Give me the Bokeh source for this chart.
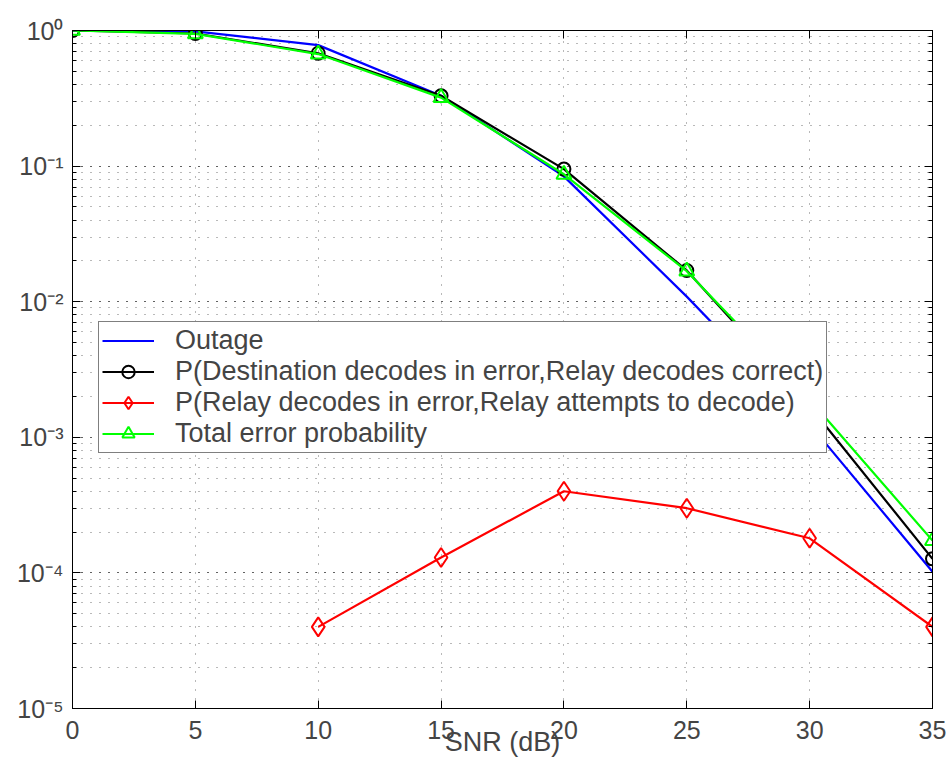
from bokeh.plotting import figure
from bokeh.models import (LinearAxis, LogAxis, LogTicker, SingleIntervalTicker,
                          CustomJSTickFormatter, Legend, LegendItem, Range1d)
from bokeh.embed import file_html
from bokeh.resources import INLINE

# ---- data ----
snr = [0, 5, 10, 15, 20, 25, 30, 35]
outage = [1.0, 0.985, 0.78, 0.33, 0.084, 0.0109, 0.00125, 0.000102]
dest_err = [1.0, 0.95, 0.68, 0.33, 0.095, 0.0170, 0.00170, 0.000127]
total_err = [1.0, 0.945, 0.67, 0.32, 0.087, 0.0168, 0.00190, 0.000173]
relay_snr = [10, 15, 20, 25, 30, 35]
relay_err = [4.0e-5, 1.3e-4, 4.0e-4, 3.0e-4, 1.8e-4, 4.0e-5]

labels = ["Outage",
          "P(Destination decodes in error,Relay decodes correct)",
          "P(Relay decodes in error,Relay attempts to decode)",
          "Total error probability"]
x_label = "SNR (dB)"

FONT = "Liberation Sans"

p = figure(width=946, height=760, y_axis_type="log",
           x_range=Range1d(0, 35), y_range=Range1d(1e-5, 1.0),
           output_backend="svg", toolbar_location=None,
           min_border_left=72, min_border_right=14,
           min_border_top=30, min_border_bottom=52)
p.outline_line_color = "black"
p.outline_line_width = 1
p.background_fill_color = "white"
p.border_fill_color = "white"

sup_code = """
const sup = {'-':'\u207b','0':'\u2070','1':'\u00b9','2':'\u00b2','3':'\u00b3','4':'\u2074','5':'\u2075','6':'\u2076','7':'\u2077','8':'\u2078','9':'\u2079'};
const e = Math.round(Math.log10(tick));
return '10' + String(e).split('').map(c => sup[c]).join('');
"""

yticker = LogTicker(desired_num_ticks=6, num_minor_ticks=10)
xticker = SingleIntervalTicker(interval=5, num_minor_ticks=0)

# bottom x axis
xa = p.xaxis[0]
xa.ticker = xticker
xa.axis_label = x_label
xa.axis_label_text_font = FONT
xa.axis_label_text_font_style = "normal"
xa.axis_label_text_font_size = "27px"
xa.axis_label_standoff = -15
xa.major_label_text_font = FONT
xa.major_label_text_font_size = "25px"
xa.major_label_standoff = 12
xa.major_tick_in = 8
xa.major_tick_out = 0
xa.minor_tick_line_color = None

# left y axis
ya = p.yaxis[0]
ya.ticker = yticker
ya.formatter = CustomJSTickFormatter(code=sup_code)
ya.major_label_text_font = FONT
ya.major_label_text_font_size = "25px"
ya.major_label_standoff = 9
ya.major_tick_in = 8
ya.major_tick_out = 0
ya.minor_tick_in = 4
ya.minor_tick_out = 0

# top & right axes (ticks only, labels not drawn)
top = LinearAxis(ticker=xticker, major_tick_in=8, major_tick_out=0,
                 minor_tick_line_color=None, major_label_text_color=None,
                 major_label_text_font_size="6px", major_label_standoff=0)
right = LogAxis(ticker=yticker, major_tick_in=8, major_tick_out=0,
                minor_tick_in=4, minor_tick_out=0, major_label_text_color=None,
                major_label_text_font_size="6px", major_label_standoff=0)
p.add_layout(top, "above")
p.add_layout(right, "right")

# grid
for g in (p.xgrid[0], p.ygrid[0]):
    g.grid_line_color = "black"
    g.grid_line_alpha = 0.55
    g.grid_line_dash = "1 8"
    g.grid_line_width = 1
p.xgrid[0].ticker = xticker
p.ygrid[0].ticker = yticker
p.ygrid[0].minor_grid_line_color = "black"
p.ygrid[0].minor_grid_line_alpha = 0.55
p.ygrid[0].minor_grid_line_dash = "1 8"

LW = 2.2
r_out = p.line(snr, outage, line_color="#0000ff", line_width=LW)
r_dl = p.line(snr, dest_err, line_color="black", line_width=LW)
r_dm = p.scatter(snr, dest_err, marker="circle", size=13, fill_color=None,
                 line_color="black", line_width=2)
r_rl = p.line(relay_snr, relay_err, line_color="#ff0000", line_width=LW)
r_rm = p.scatter(relay_snr, relay_err, marker="diamond", size=19, fill_color=None,
                 line_color="#ff0000", line_width=2)
r_tl = p.line(snr, total_err, line_color="#00ff00", line_width=LW)
r_tm = p.scatter(snr, total_err, marker="triangle", size=15, fill_color=None,
                 line_color="#00ff00", line_width=2)

legend = Legend(items=[
    LegendItem(label=labels[0], renderers=[r_out]),
    LegendItem(label=labels[1], renderers=[r_dl, r_dm]),
    LegendItem(label=labels[2], renderers=[r_rl, r_rm]),
    LegendItem(label=labels[3], renderers=[r_tl, r_tm]),
], location=(26, 255))
legend.label_text_font = FONT
legend.label_text_font_size = "27px"
legend.label_standoff = 21
legend.glyph_width = 52
legend.glyph_height = 31
legend.label_height = 31
legend.spacing = 0
legend.padding = 3
legend.margin = 0
legend.border_line_color = "black"
legend.border_line_width = 1
legend.background_fill_color = "white"
legend.background_fill_alpha = 1.0
p.add_layout(legend, "center")

open("out.html", "w").write(file_html(p, INLINE))
